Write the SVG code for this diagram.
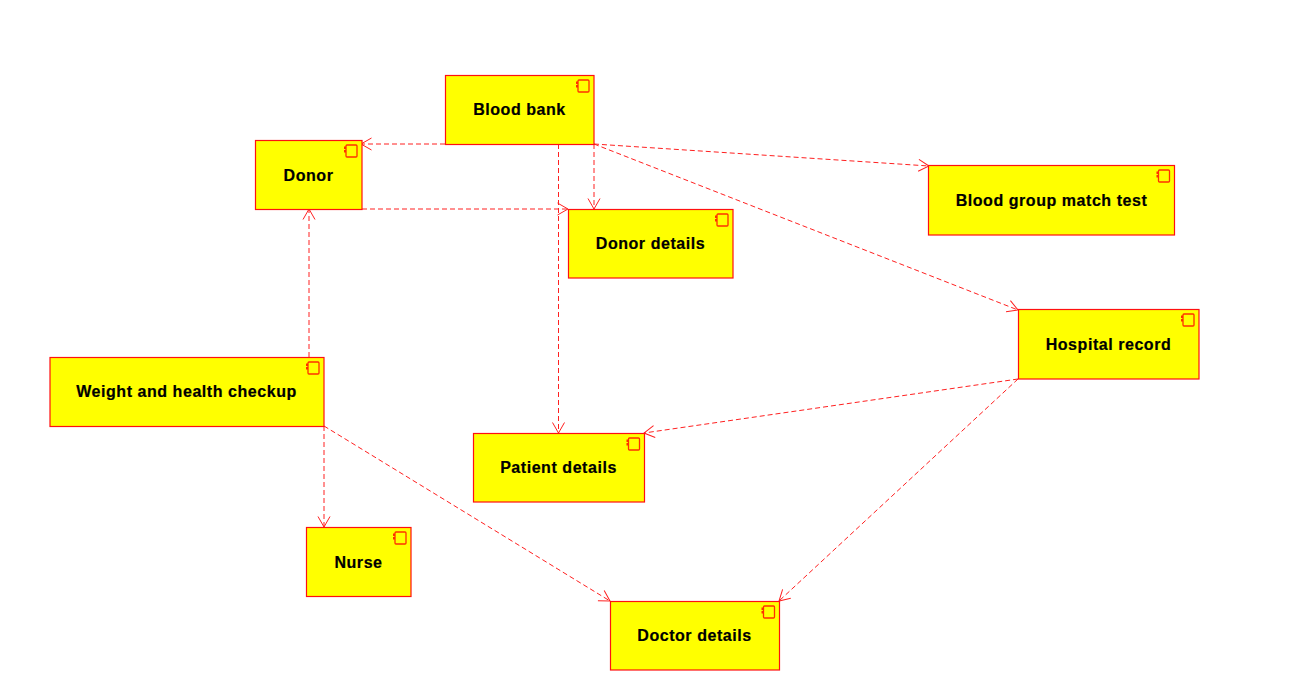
<svg xmlns="http://www.w3.org/2000/svg" width="1303" height="700" viewBox="0 0 1303 700">
<style>
.box{fill:#ffff00;stroke:#ff1010;stroke-width:1.2}
.ic{fill:#ffff00;stroke:#ff3000;stroke-width:1.3}
.tab{fill:#ff3000;stroke:none}
.t{font-family:"Liberation Sans",Arial,sans-serif;font-size:16px;font-weight:bold;fill:#000;stroke:#000;stroke-width:.2;text-anchor:middle;letter-spacing:.55px}
.c{fill:none;stroke:#ff2020;stroke-width:1;stroke-dasharray:5 3;marker-end:url(#a)}
</style>
<defs>
<marker id="a" markerUnits="userSpaceOnUse" markerWidth="14" markerHeight="14" refX="11.500" refY="7" orient="auto"><path d="M1 1L11.500 7L1 13" fill="none" stroke="#ff2020" stroke-width="1"/></marker>
<g id="i"><rect class="tab" x="-18" y="6.500" width="3" height="2.500"/><rect class="tab" x="-18" y="10" width="3" height="2.500"/><rect class="ic" x="-16" y="5" width="11" height="12" rx="1"/></g>
</defs>
<rect width="1303" height="700" fill="#fff"/>
<g id="connectors">
<path class="c" d="M445 144H361"/>
<path class="c" d="M558.500 144V433"/>
<path class="c" d="M594 144V209"/>
<path class="c" d="M594 144L929 166"/>
<path class="c" d="M594 144L1018 310"/>
<path class="c" d="M362 209H568"/>
<path class="c" d="M309 357V209"/>
<path class="c" d="M324 426V527"/>
<path class="c" d="M324 426L610 601"/>
<path class="c" d="M1018 379L644 433"/>
<path class="c" d="M1018 379L779 601"/>
</g>
<g id="blood-bank"><rect class="box" x="445.500" y="75.500" width="148.500" height="69"/><use href="#i" x="594" y="75"/><text class="t" x="519.500" y="115">Blood bank</text></g>
<g id="donor"><rect class="box" x="255.500" y="140.500" width="106.500" height="69"/><use href="#i" x="362" y="140"/><text class="t" x="308.500" y="180.500">Donor</text></g>
<g id="donor-details"><rect class="box" x="568.500" y="209.500" width="164.500" height="68.500"/><use href="#i" x="733" y="209"/><text class="t" x="650.500" y="248.500">Donor details</text></g>
<g id="blood-group"><rect class="box" x="928.500" y="165.500" width="246" height="69.500"/><use href="#i" x="1174.500" y="165"/><text class="t" x="1051.500" y="205.500">Blood group match test</text></g>
<g id="hospital-record"><rect class="box" x="1018.500" y="309.500" width="180.500" height="69.500"/><use href="#i" x="1199" y="309"/><text class="t" x="1108.500" y="349.500">Hospital record</text></g>
<g id="weight"><rect class="box" x="50" y="357.500" width="274" height="69"/><use href="#i" x="324" y="357"/><text class="t" x="186.500" y="396.500">Weight and health checkup</text></g>
<g id="patient-details"><rect class="box" x="473.500" y="433.500" width="171" height="68.500"/><use href="#i" x="644.500" y="433"/><text class="t" x="558.500" y="472.500">Patient details</text></g>
<g id="nurse"><rect class="box" x="306.500" y="527.500" width="104.500" height="69"/><use href="#i" x="411" y="527"/><text class="t" x="358.500" y="567.500">Nurse</text></g>
<g id="doctor-details"><rect class="box" x="610.500" y="601.500" width="169" height="68.500"/><use href="#i" x="779.500" y="601"/><text class="t" x="694.500" y="640.500">Doctor details</text></g>
</svg>
